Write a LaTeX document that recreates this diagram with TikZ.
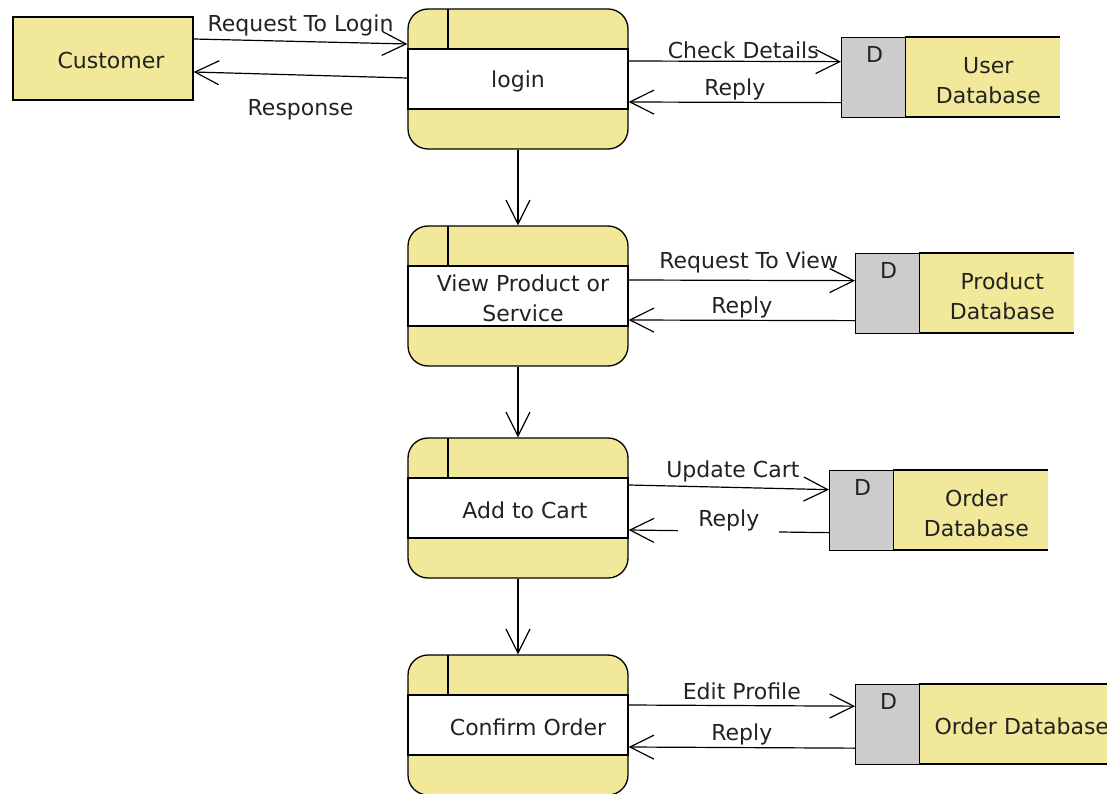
\documentclass[tikz,border=0pt]{standalone}
\usepackage{fontspec}
\setmainfont{DejaVu Sans}
\usetikzlibrary{arrows.meta}
\definecolor{procyellow}{HTML}{F2E89A}
\definecolor{storegray}{HTML}{CCCCCC}
\definecolor{inkgray}{HTML}{222222}

\begin{document}
\begin{tikzpicture}[x=1pt,y=-1pt,
		every node/.style={font=\fontsize{22}{30}\selectfont, text=inkgray},
		band/.style={draw=black, fill=white, line width=1.3pt, minimum width=220pt, minimum height=60pt, align=center, inner sep=0pt},
		ext/.style={draw=black, fill=procyellow, line width=1.3pt, minimum width=180pt, minimum height=83pt},
		dkey/.style={draw=black, fill=storegray, line width=1.3pt, minimum width=64pt, minimum height=80pt, anchor=north west, inner sep=0pt},
		dname/.style={align=center, inner sep=0pt},
		flow/.style={-{Straight Barb[length=24pt,width=24pt]}, line width=1.2pt},
		lbl/.style={inner sep=2pt}]
		\useasboundingbox (0,0) rectangle (1107,794);
		
		\foreach \y/\dx/\n/\t in {9/0/login/login, 226/5/view/{View Product or\\Service}, 438/7/cart/Add to Cart, 655/10/confirm/Confirm Order}{
			\filldraw[fill=procyellow, line width=1.3pt, rounded corners=20pt] (408,\y) rectangle ++(220,140);
			\draw[line width=1.3pt] (448,\y) -- ++(0,40);
			\node[band] (\n) at (518,\y+70) {};
			\node[dname] (\n T) at ([xshift=\dx pt,yshift=-2pt]\n.center) {\t};
		}
		
		\node[ext] (cust) at (103,58.5) {};
		\node (custT) at ([xshift=8pt,yshift=-2pt]cust.center) {Customer};
		
		\foreach \x/\y/\n/\t in {841/37/user/{User\\Database}, 855/253/prod/{Product\\Database}, 829/470/ord/{Order\\Database}}{
			\fill[procyellow] (\x+64,\y) rectangle ++(155,80);
			\draw[line width=1.3pt] (\x+64,\y) -- ++(155,0);
			\draw[line width=1.3pt] (\x+64,\y+80) -- ++(155,0);
			\node[dkey] (\n D) at (\x,\y) {};
			\node[anchor=north, inner sep=0pt] (\n K) at ([xshift=1pt,yshift=-9pt]\n D.north) {D};
			\node[dname] (\n db) at ([xshift=82pt,yshift=-3pt]\n D.east) {\t};
		}
		\fill[procyellow] (919,684) rectangle ++(200,80);
		\draw[line width=1.3pt] (919,684) -- ++(200,0);
		\draw[line width=1.3pt] (919,764) -- ++(200,0);
		\node[dkey] (ordtwoD) at (855,684) {};
		\node[anchor=north, inner sep=0pt] (ordtwoK) at ([xshift=1pt,yshift=-9pt]ordtwoD.north) {D};
		\node[dname, anchor=west] (ordtwodb) at ([xshift=14pt,yshift=-2pt]ordtwoD.east) {Order Database};
		
		\draw[flow] ([yshift=19.5pt]cust.east) -- node[lbl, above=3pt] {Request To Login} ([yshift=35pt]login.west);
		\draw[flow] ([yshift=1pt]login.west) -- node[lbl, below=22pt] {Response} ([yshift=-13.5pt]cust.east);
		
		\draw[flow] ([yshift=18pt]login.east) -- node[lbl, above, pos=0.54] {Check Details} ([yshift=16pt]userD.west);
		\draw[flow] ([yshift=-25pt]userD.west) -- node[lbl, above] {Reply} ([yshift=-23pt]login.east);
		
		\draw[flow] ([yshift=16pt]view.east) -- node[lbl, above=5pt, pos=0.53] {Request To View} ([yshift=13pt]prodD.west);
		\draw[flow] ([yshift=-27pt]prodD.west) -- node[lbl, above] {Reply} ([yshift=-24pt]view.east);
		
		\draw[flow] ([yshift=23pt]cart.east) -- node[lbl, above=3pt, pos=0.52] {Update Cart} ([yshift=21pt]ordD.west);
		\draw[flow] ([yshift=-22pt]ordD.west) -- node[lbl, fill=white, inner xsep=20pt, inner ysep=4pt, yshift=11pt] {Reply} ([yshift=-22pt]cart.east);
		
		\draw[flow] ([yshift=20pt]confirm.east) -- node[lbl, above=3pt] {Edit Profile} ([yshift=18.5pt]ordtwoD.west);
		\draw[flow] ([yshift=-23.5pt]ordtwoD.west) -- node[lbl, above] {Reply} ([yshift=-22pt]confirm.east);
		
		\draw[flow] ([yshift=-40pt]login.south) -- ([yshift=40pt]view.north);
		\draw[flow] ([yshift=-40pt]view.south) -- ([yshift=40pt]cart.north);
		\draw[flow] ([yshift=-40pt]cart.south) -- ([yshift=40pt]confirm.north);
	\end{tikzpicture}
\end{document}
